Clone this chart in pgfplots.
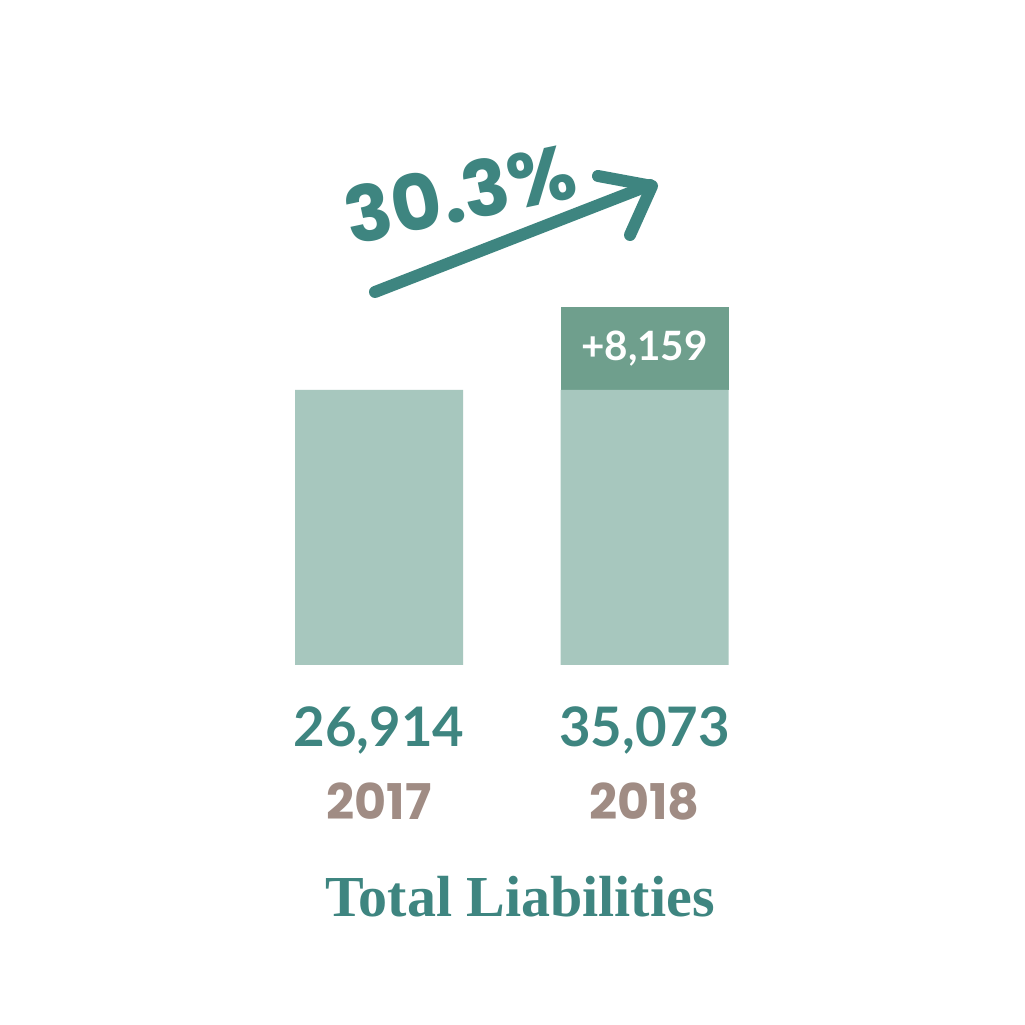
\documentclass[border=0pt]{standalone}
\usepackage{fontspec}
\setmainfont{Lato}
\newfontfamily\serifbold{Liberation Serif}
\newfontfamily\handfont{Poppins}
\usepackage{pgfplots}
\pgfplotsset{compat=1.18}
\definecolor{teal}{HTML}{3E8580}
\definecolor{lightbar}{HTML}{A7C7BE}
\definecolor{darkbar}{HTML}{6F9F8D}
\definecolor{yearc}{HTML}{A08C84}
\begin{document}
\begin{tikzpicture}
\fill[white] (0,0) rectangle (10.25,10.25);
\begin{axis}[
  at={(3.79cm,3.6cm)}, anchor=origin,
  scale only axis,
  width=5.31cm, height=4.0871cm,
  xmin=-0.5, xmax=1.5, ymin=0, ymax=40000,
  axis lines=none, ticks=none,
  ybar stacked, bar width=1.68cm,
  clip=false,
]
\addplot[fill=lightbar, draw=none] coordinates {(0,26914) (1,26914)};
\addplot[fill=darkbar, draw=none] coordinates {(0,0) (1,8159)};
\coordinate (lbl) at (axis cs:1,30993);
\end{axis}
\node[white, font=\fontsize{11.5pt}{14pt}\selectfont\bfseries] at (lbl) {+8,159};
\node[teal, font=\fontsize{15.5pt}{18pt}\selectfont\bfseries] at (3.79,2.95) {26,914};
\node[teal, font=\fontsize{15.5pt}{18pt}\selectfont\bfseries] at (6.445,2.95) {35,073};
\node[yearc, font=\handfont\fontsize{14pt}{16pt}\selectfont\bfseries] at (3.79,2.24) {2017};
\node[yearc, font=\handfont\fontsize{14pt}{16pt}\selectfont\bfseries] at (6.445,2.24) {2018};
\node[teal, font=\serifbold\fontsize{16.5pt}{19pt}\selectfont\bfseries] at (5.2,1.28) {Total Liabilities};
\node[teal, rotate=12, inner sep=0pt, font=\handfont\fontsize{22pt}{24pt}\selectfont\bfseries] at (4.6,8.32) {30.3\%};
\draw[teal, line width=0.12cm, line cap=round, line join=round] (3.75,7.33) -- (6.5,8.4);
\draw[teal, line width=0.12cm, line cap=round, line join=round] (5.98,8.49) -- (6.52,8.39) -- (6.3,7.9);
\end{tikzpicture}
\end{document}
